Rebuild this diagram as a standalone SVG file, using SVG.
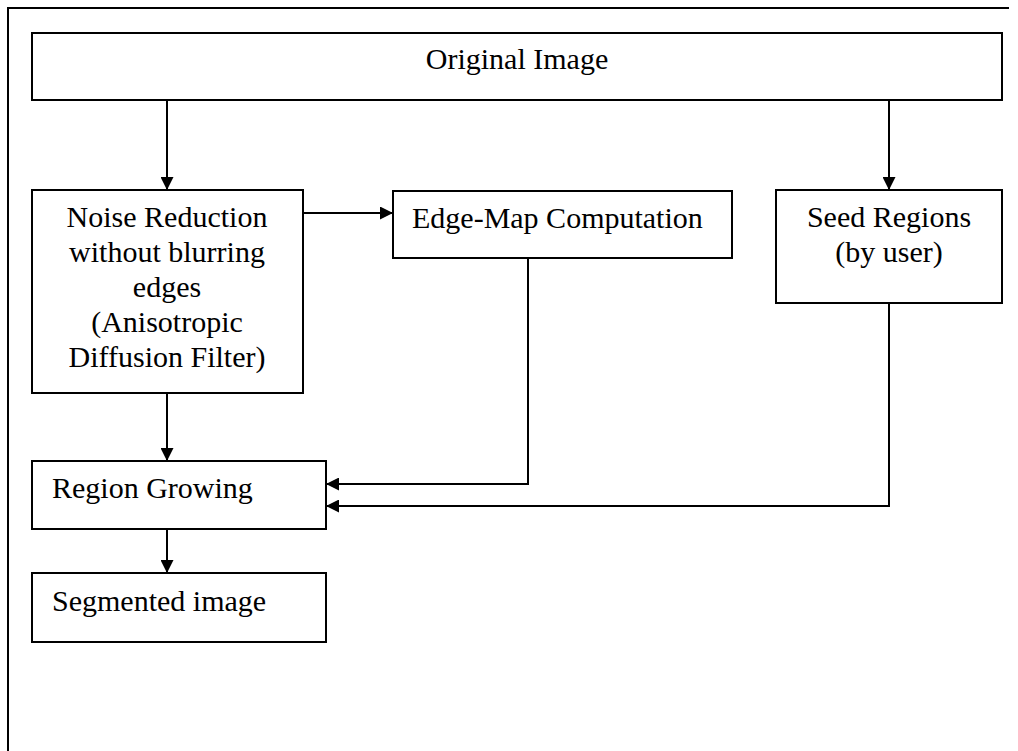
<svg xmlns="http://www.w3.org/2000/svg" width="1018" height="751" viewBox="0 0 1018 751">
<style>
.box{fill:#fff;stroke:#000;stroke-width:2}
.frame{fill:none;stroke:#000;stroke-width:2}
.t{font-family:"Liberation Serif","Times New Roman",serif;font-size:30px;fill:#000}
.c{text-anchor:middle}
.ln{fill:none;stroke:#000;stroke-width:2}
</style>
<defs>
<marker id="ah" viewBox="0 0 13 13" refX="13" refY="6.5" markerWidth="13" markerHeight="13" markerUnits="userSpaceOnUse" orient="auto">
<path d="M0,0 L13,6.5 L0,13 Z" fill="#000"/>
</marker>
</defs>
<rect width="1018" height="751" fill="#fff"/>
<path class="frame" d="M8,760 L8,8 L1009,8"/>
<g id="connectors">
<line class="ln" x1="167" y1="100" x2="167" y2="190" marker-end="url(#ah)"/>
<line class="ln" x1="889" y1="100" x2="889" y2="190" marker-end="url(#ah)"/>
<line class="ln" x1="303" y1="213" x2="393" y2="213" marker-end="url(#ah)"/>
<line class="ln" x1="167" y1="393" x2="167" y2="461" marker-end="url(#ah)"/>
<polyline class="ln" points="528,258 528,484 326,484" marker-end="url(#ah)"/>
<polyline class="ln" points="889,303 889,506 326,506" marker-end="url(#ah)"/>
<line class="ln" x1="167" y1="529" x2="167" y2="573" marker-end="url(#ah)"/>
</g>
<g id="original">
<rect class="box" x="32" y="33" width="970" height="67"/>
<text class="t c" x="517" y="69">Original Image</text>
</g>
<g id="noise">
<rect class="box" x="32" y="190" width="271" height="203"/>
<text class="t c" x="167" y="227">Noise Reduction</text>
<text class="t c" x="167" y="262">without blurring</text>
<text class="t c" x="167" y="297">edges</text>
<text class="t c" x="167" y="332">(Anisotropic</text>
<text class="t c" x="167" y="367">Diffusion Filter)</text>
</g>
<g id="edgemap">
<rect class="box" x="393" y="191" width="339" height="67"/>
<text class="t" x="412" y="228">Edge-Map Computation</text>
</g>
<g id="seed">
<rect class="box" x="776" y="190" width="226" height="113"/>
<text class="t c" x="889" y="227">Seed Regions</text>
<text class="t c" x="889" y="262">(by user)</text>
</g>
<g id="region">
<rect class="box" x="32" y="461" width="294" height="68"/>
<text class="t" x="52" y="498">Region Growing</text>
</g>
<g id="segmented">
<rect class="box" x="32" y="573" width="294" height="69"/>
<text class="t" x="52" y="611">Segmented image</text>
</g>
</svg>
